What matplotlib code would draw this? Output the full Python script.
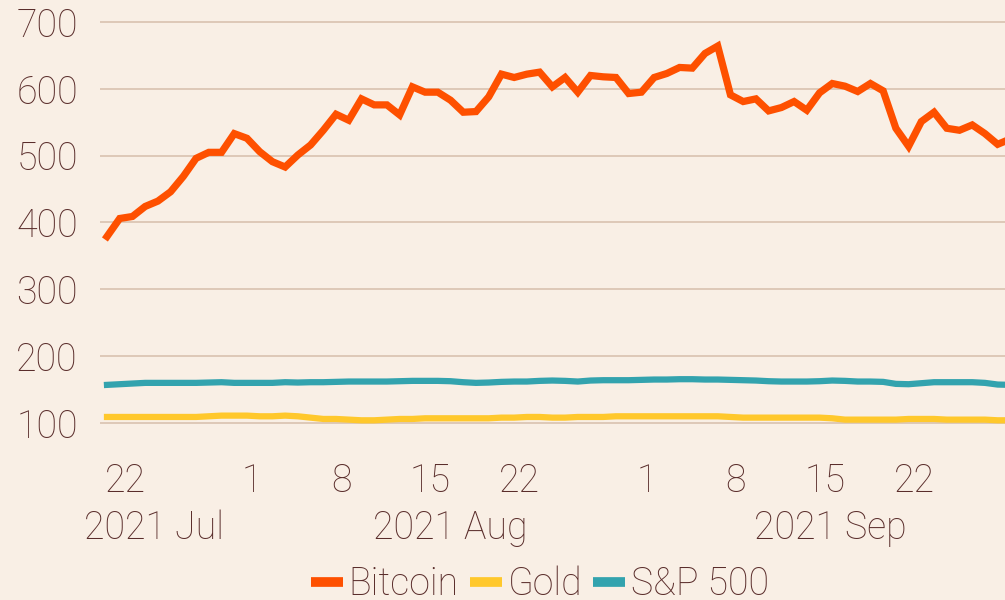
import matplotlib
matplotlib.use("Agg")
import matplotlib.pyplot as plt
import matplotlib.dates as mdates
from matplotlib.lines import Line2D
import pandas as pd

# ---- data ----
start = "2021-07-20 14:00"
bitcoin = [379, 406, 409, 424, 432, 446, 469, 496, 505, 505,
           533, 526, 506, 491, 483, 501, 516, 538, 562, 553,
           585, 576, 576, 561, 603, 595, 595, 583, 565, 566,
           588, 622, 617, 622, 625, 603, 617, 595, 620, 618,
           617, 593, 595, 617, 623, 632, 631, 653, 664, 591,
           581, 585, 567, 572, 581, 568, 594, 608, 604, 596,
           608, 597, 541, 514, 551, 565, 541, 538, 546, 533,
           517, 525]
gold = [109, 109, 109, 109, 109, 109, 109, 109, 110, 111,
        111, 111, 110, 110, 111, 110, 108, 106, 106, 105,
        104, 104, 105, 106, 106, 107, 107, 107, 107, 107,
        107, 108, 108, 109, 109, 108, 108, 109, 109, 109,
        110, 110, 110, 110, 110, 110, 110, 110, 110, 109,
        108, 108, 108, 108, 108, 108, 108, 107, 105, 105,
        105, 105, 105, 106, 106, 106, 105, 105, 105, 105,
        104, 104]
sp500 = [157, 158, 159, 160, 160, 160, 160, 160, 160.5, 161,
         160, 160, 160, 160, 161, 160.5, 161, 161, 161.5, 162,
         162, 162, 162, 162.5, 163, 163, 163, 162.5, 161, 160,
         160.5, 161.5, 162, 162, 163, 163.5, 163, 162, 163.5, 164,
         164, 164, 164.5, 165, 165, 165.5, 165.5, 165, 165, 164.5,
         164, 163.5, 162.5, 162, 162, 162, 162.5, 163.5, 163, 162,
         162, 161.5, 158.5, 158, 159.5, 161, 161, 161, 161, 160,
         157.5, 157]
series_names = ["Bitcoin", "Gold", "S&P 500"]
y_ticks = [100, 200, 300, 400, 500, 600, 700]
month_labels = ["2021 Jul", "2021 Aug", "2021 Sep"]

dates = pd.date_range(start, periods=len(bitcoin), freq="D")

# ---- style ----
bg = "#F9EFE5"
txt = "#5A2D2B"
grid_c = "#DCC5B4"
colors = ["#FE5000", "#FFC82C", "#33A3AE"]

plt.rcParams["font.family"] = ["Roboto", "DejaVu Sans"]
plt.rcParams["font.weight"] = "light"

W, H = 1005, 600
fig = plt.figure(figsize=(W / 100, H / 100), dpi=100, facecolor=bg)
left, right, top, bottom = 100, 1005, 15, 435
ax = fig.add_axes([left / W, 1 - bottom / H, (right - left) / W, (bottom - top) / H])
ax.set_facecolor(bg)

ax.plot(dates, sp500, color=colors[2], lw=4.5, solid_joinstyle="round", zorder=3)
ax.plot(dates, gold, color=colors[1], lw=4.5, solid_joinstyle="round", zorder=3)
ax.plot(dates, bitcoin, color=colors[0], lw=5.2, solid_joinstyle="miter", zorder=4)

ax.set_ylim(82.0, 710.5)
xl0 = mdates.date2num(pd.Timestamp("2021-07-22")) - 25 / 12.71
xl1 = mdates.date2num(pd.Timestamp("2021-09-22")) + 91 / 12.71
ax.set_xlim(xl0, xl1)

ax.set_yticks(y_ticks)
ax.grid(axis="y", color=grid_c, lw=1.3)
ax.set_axisbelow(True)
for s in ax.spines.values():
    s.set_visible(False)

tick_dates = pd.to_datetime(["2021-07-22", "2021-08-01", "2021-08-08", "2021-08-15",
                             "2021-08-22", "2021-09-01", "2021-09-08", "2021-09-15",
                             "2021-09-22"])
ax.set_xticks(tick_dates)
ax.set_xticklabels([str(d.day) for d in tick_dates])
ax.tick_params(axis="both", length=0, labelsize=27, colors=txt)
ax.tick_params(axis="y", pad=16)
ax.tick_params(axis="x", pad=20)

month_pos = pd.to_datetime(["2021-07-24 07:00", "2021-08-16 14:00", "2021-09-15 10:00"])
trans = ax.get_xaxis_transform()
for lab, p in zip(month_labels, month_pos):
    ax.text(mdates.date2num(p), -0.222, lab, transform=trans, ha="center", va="center",
            fontsize=27, color=txt, clip_on=False)

handles = [Line2D([], [], color=c, lw=7, solid_capstyle="butt") for c in colors]
leg = fig.legend(handles, series_names, loc="center", bbox_to_anchor=(540 / W, 1 - 584 / H),
                 ncol=3, frameon=False, fontsize=27, handlelength=0.85, handletextpad=0.15,
                 columnspacing=0.3, labelcolor=txt, borderpad=0)

fig.savefig("out.png", dpi=100, facecolor=bg)
